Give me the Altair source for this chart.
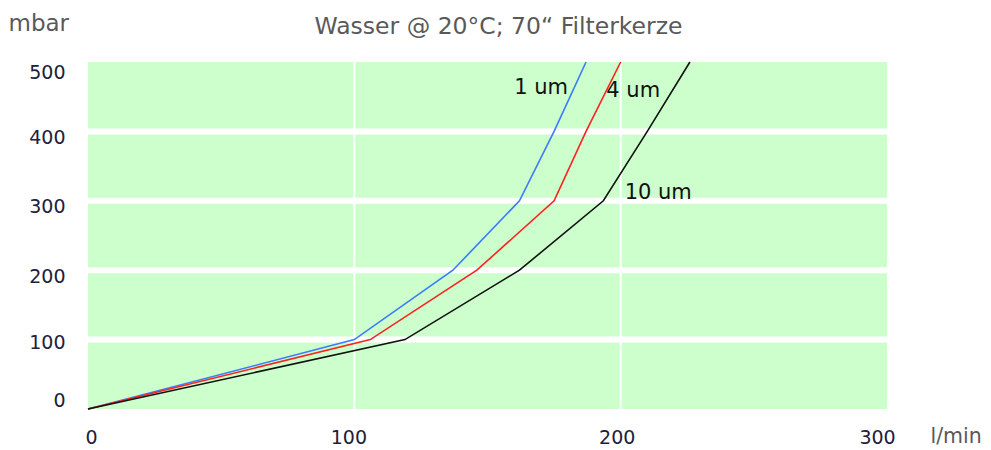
import altair as alt
import pandas as pd

# ---- data ----
pressure = [0, 100, 200, 300, 400, 500]           # mbar
flow_1um = [0, 100, 137, 162, 175, 187]            # l/min
flow_4um = [0, 106, 146, 175, 187, 200]
flow_10um = [0, 119, 162, 193.5, 210, 226]
series_names = ["1 um", "4 um", "10 um"]
series_colors = ["#3a7bff", "#ff2020", "#111111"]

x_ticks = [0, 100, 200, 300]
y_ticks = [0, 100, 200, 300, 400, 500]
x_grid = [100, 200]
y_grid = [100, 200, 300, 400]

label_names = ["1 um", "4 um", "10 um"]
label_flow = [160, 194.6, 201.5]
label_pressure = [463, 458, 311]

FONT = "DejaVu Sans"

rows = []
for name, flows in zip(series_names, [flow_1um, flow_4um, flow_10um]):
    for f, p in zip(flows, pressure):
        rows.append({"series": name, "flow": f, "pressure": p})
lines_df = pd.DataFrame(rows)
labels_df = pd.DataFrame({"name": label_names, "flow": label_flow, "pressure": label_pressure})
xgrid_df = pd.DataFrame({"flow": x_grid})
ygrid_df = pd.DataFrame({"pressure": y_grid})

x_enc = alt.X(
    "flow:Q",
    scale=alt.Scale(domain=[0, 300], nice=False, zero=False),
    axis=alt.Axis(
        values=x_ticks, grid=False, domain=False, ticks=False, tickSize=0,
        labelFont=FONT, labelFontSize=19, labelColor="#20203a",
        labelPadding=19, labelFlush=False, labelOverlap=False,
        labelBaseline="top",
        labelOffset={"condition": [
            {"test": "datum.value == 0", "value": 3},
            {"test": "datum.value == 100", "value": -6},
            {"test": "datum.value == 200", "value": -4},
            {"test": "datum.value == 300", "value": -10},
        ], "value": 0},
        title="l/min", titleFont=FONT, titleFontSize=20.5, titleFontWeight="normal",
        titleColor="#595959", titleAlign="left", titleBaseline="middle",
        titleX=842, titleY=27,
    ),
)
y_enc = alt.Y(
    "pressure:Q",
    scale=alt.Scale(domain=[0, 500], nice=False, zero=False),
    axis=alt.Axis(
        values=y_ticks, grid=False, domain=False, ticks=False, tickSize=0,
        labelFont=FONT, labelFontSize=19, labelColor="#20203a",
        labelPadding=23, labelFlush=False, labelOverlap=False,
        labelBaseline="middle",
        labelOffset={"condition": [
            {"test": "datum.value == 0", "value": -9},
            {"test": "datum.value == 100", "value": 3},
            {"test": "datum.value == 500", "value": 10},
        ], "value": 6},
        title="mbar", titleFont=FONT, titleFontSize=23, titleFontWeight="normal",
        titleColor="#595959", titleAngle=0, titleAlign="left", titleBaseline="alphabetic",
        titleX=-80, titleY=-32,
    ),
)

ygrid = alt.Chart(ygrid_df).mark_rule(color="white", strokeWidth=6).encode(y=y_enc)
xgrid = alt.Chart(xgrid_df).mark_rule(color="white", strokeWidth=2).encode(x=x_enc)

lines = alt.Chart(lines_df).mark_line(strokeWidth=1.6).encode(
    x=x_enc,
    y=y_enc,
    color=alt.Color("series:N", scale=alt.Scale(domain=series_names, range=series_colors), legend=None),
    order=alt.Order("pressure:Q"),
)

labels = alt.Chart(labels_df).mark_text(
    align="left", baseline="middle", font=FONT, fontSize=21, color="#111111"
).encode(x=x_enc, y=y_enc, text="name:N")

chart = alt.layer(ygrid, xgrid, lines, labels).properties(
    width=799,
    height=347,
    padding={"left": 80, "top": 54, "right": 96, "bottom": 38},
    autosize=alt.AutoSizeParams(type="none"),
    title=alt.TitleParams(
        "Wasser @ 20°C; 70“ Filterkerze",
        font=FONT, fontSize=23.5, fontWeight="normal", color="#595959",
        anchor="middle", frame="group", baseline="alphabetic", offset=-45, dx=11,
    ),
).configure_view(fill="#ccffcc", strokeWidth=0)

chart.save("out.html", embed_options={"renderer": "svg", "actions": False})
